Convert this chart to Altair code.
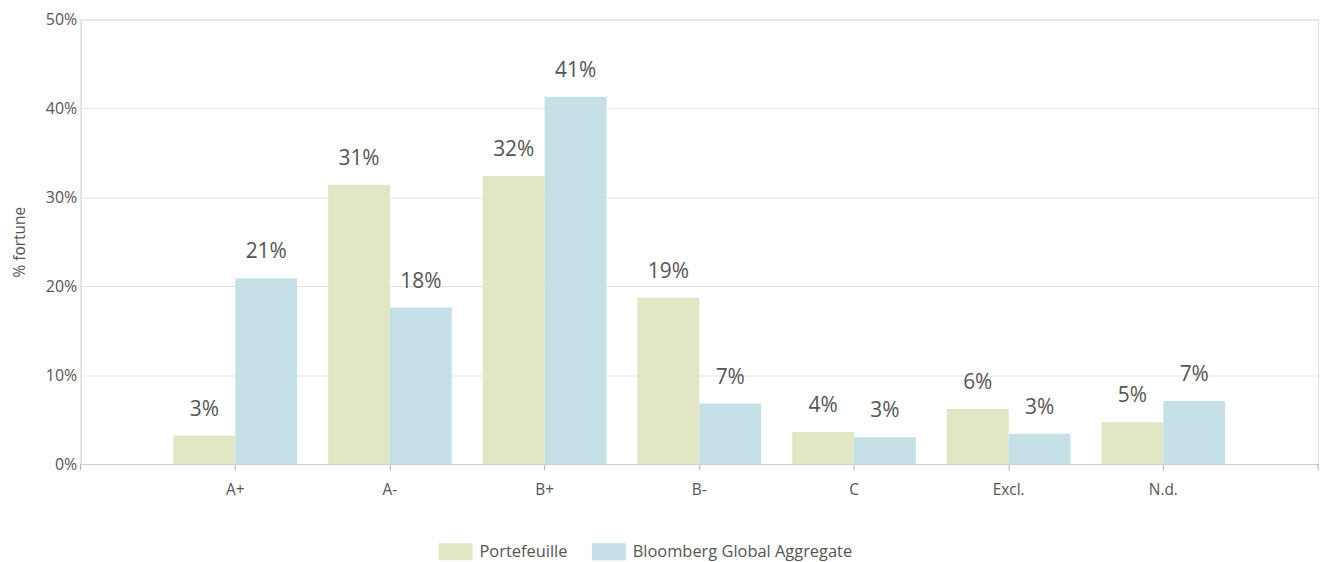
import altair as alt
import pandas as pd

categories = ["A+", "A-", "B+", "B-", "C", "Excl.", "N.d."]
series_names = ["Portefeuille", "Bloomberg Global Aggregate"]
portefeuille = [0.032, 0.314, 0.324, 0.187, 0.036, 0.062, 0.047]
bloomberg = [0.209, 0.176, 0.413, 0.068, 0.030, 0.034, 0.071]
colors = ["#e1e6c4", "#c5e1e7"]
y_ticks = [0, 0.1, 0.2, 0.3, 0.4, 0.5]

rows = []
for i, c in enumerate(categories):
    rows.append({"cat": c, "series": series_names[0], "value": portefeuille[i]})
    rows.append({"cat": c, "series": series_names[1], "value": bloomberg[i]})
df = pd.DataFrame(rows)

FONT = "Open Sans"
TXT = "#555555"

x_axis = alt.Axis(labelAngle=0, labelPadding=13, tickSize=6, tickColor="#b0b0b0",
                  domainColor="#d0d0d0", grid=False, labelFontSize=15.5)
y_axis = alt.Axis(values=y_ticks, format=".0%", labelPadding=4, ticks=False,
                  domainColor="#d8d8d8", gridColor="#e3e3e3", titlePadding=18,
                  labelFontSize=16, titleFontSize=15.5)

x_enc = alt.X("cat:N", sort=categories, title=None,
              scale=alt.Scale(paddingInner=0.2, paddingOuter=0.6), axis=x_axis)
xoff = alt.XOffset("series:N", sort=series_names)
y_enc = alt.Y("value:Q", title="% fortune",
              scale=alt.Scale(domain=[0, 0.5], nice=False), axis=y_axis)

color_enc = alt.Color("series:N", sort=series_names,
                      scale=alt.Scale(domain=series_names, range=colors),
                      legend=alt.Legend(title=None, orient="none", direction="horizontal",
                                        legendX=360, legendY=518,
                                        symbolType="M-1,-0.5H1V0.5H-1Z", symbolSize=1156,
                                        symbolStrokeWidth=0, symbolOpacity=1,
                                        labelFontSize=16.5, labelFont=FONT, labelColor=TXT,
                                        labelLimit=0, labelOffset=7, columnPadding=24,
                                        padding=0))

bars = alt.Chart(df).mark_bar(opacity=1).encode(x=x_enc, xOffset=xoff, y=y_enc, color=color_enc)

labels = alt.Chart(df).mark_text(fontSize=21, font=FONT, color=TXT, baseline="middle", dy=-26).encode(
    x=alt.X("cat:N", sort=categories, title=None, axis=x_axis), xOffset=xoff,
    y=alt.Y("value:Q", title="% fortune", axis=y_axis),
    text=alt.Text("value:Q", format=".0%"))

end_ticks = pd.DataFrame({"pos": [0, 1244]})
edge = alt.Chart(end_ticks).mark_rule(color="#b0b0b0").encode(
    x=alt.X("pos:Q", scale=None), y=alt.value(447), y2=alt.value(453))

chart = alt.layer(bars, labels, edge).properties(
    width=1244, height=447,
    autosize=alt.AutoSizeParams(type="none"),
    padding={"left": 73, "top": 10, "right": 4, "bottom": 96},
).configure_view(stroke=None).configure(font=FONT).configure_axis(
    labelFont=FONT, labelColor=TXT, titleFont=FONT, titleColor=TXT,
    titleFontWeight="normal")

chart.save("out.html", embed_options={"renderer": "svg", "actions": False})
